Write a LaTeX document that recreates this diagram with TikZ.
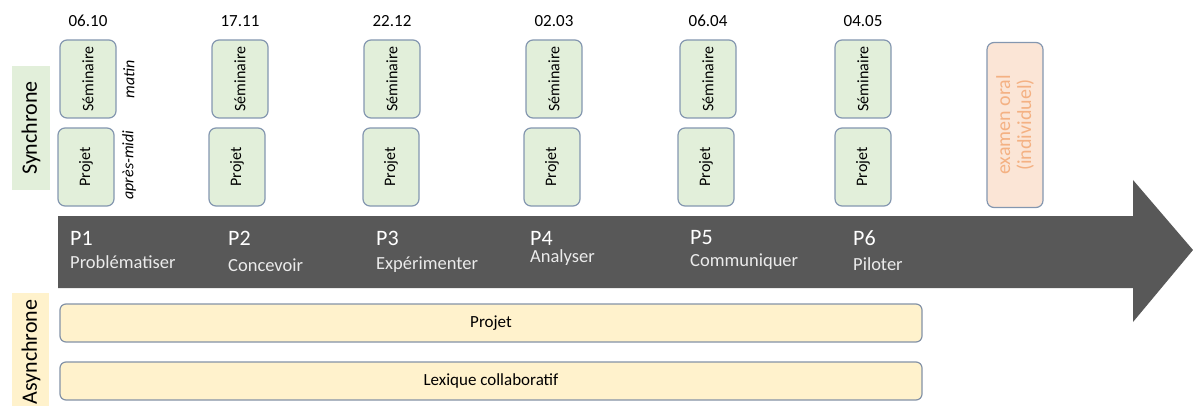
\documentclass[tikz,border=0pt]{standalone}
\usepackage{fontspec}
\setmainfont{Carlito}
\definecolor{gfill}{HTML}{E2EFDA}
\definecolor{bline}{HTML}{8497B0}
\definecolor{yfill}{HTML}{FFF2CC}
\definecolor{ofill}{HTML}{FBE5D6}
\definecolor{otext}{HTML}{F4B183}
\definecolor{arrowc}{HTML}{585858}
\begin{document}
\begin{tikzpicture}[x=1pt,y=-1pt,
  sbox/.style={draw=bline,line width=1.2pt,fill=gfill,rounded corners=7pt,minimum width=56pt,minimum height=78pt,inner sep=0pt,font=\fontsize{16}{18}\selectfont},
  bar/.style={draw=bline!80!gray,line width=1.2pt,fill=yfill,rounded corners=6pt,minimum height=38pt,inner sep=0pt,font=\fontsize{17}{19}\selectfont},
  datelbl/.style={font=\fontsize{17}{19}\selectfont},
  plbl/.style={anchor=west,text=white,font=\fontsize{22}{24}\selectfont,inner sep=0pt},
  vlbl/.style={anchor=west,text=white!92!black,font=\fontsize{18.5}{20}\selectfont,inner sep=0pt},
  side/.style={font=\fontsize{22}{24}\selectfont,rotate=90,inner sep=0pt}]
\useasboundingbox (0,0) rectangle (1193,406);
% timeline arrow
\fill[arrowc] (58,216) -- (1133,216) -- (1133,180) -- (1193,250) -- (1133,322) -- (1133,288) -- (58,288) -- cycle;
% side labels
\fill[gfill] (12,66) rectangle (50,190);
\node[side] (sync) at (31,128) {Synchrone};
\fill[yfill] (12,293) rectangle (49,406);
\node[side] (async) at (31,352) {Asynchrone};
% columns
\foreach \i/\xs/\xp/\d in {1/88/86/06.10, 2/240/237/17.11, 3/392/391/22.12, 4/554/552/02.03, 5/708/706/06.04, 6/863/863/04.05}{
  \node[datelbl] (d\i) at (\xs,21) {\d};
  \node[sbox] (s\i) at (\xs,79) {\rotatebox{90}{Séminaire}};
  \node[sbox] (p\i) at (\xp,167) {\rotatebox{90}{Projet}};
}
\node[font=\fontsize{16}{18}\selectfont\itshape,rotate=90] (matin) at (129,79) {matin};
\node[font=\fontsize{16}{18}\selectfont\itshape,rotate=90] (apm) at (129,165) {après-midi};
% exam
\node[draw=bline,line width=1.2pt,fill=ofill,rounded corners=7pt,minimum width=56pt,minimum height=165pt,inner sep=0pt] (exam) at (1015,125)
  {\rotatebox{90}{\parbox{150pt}{\centering\color{otext}\fontsize{20}{21}\selectfont examen oral\\(individuel)}}};
% phases
\foreach \i/\x/\w/\dy in {1/70/Problématiser/0, 2/228/Concevoir/3, 3/376/Expérimenter/3, 4/530/Analyser/-4, 5/690/Communiquer/0, 6/853/Piloter/2}{
  \node[plbl] (P\i) at (\x,238) {P\i};
  \node[vlbl] (V\i) at (\x,262+\dy) {\w};
}
% async bars
\node[bar,minimum width=862pt] (bp) at (491,323) {Projet};
\node[bar,minimum width=862pt] (bl) at (491,381) {Lexique collaboratif};
\end{tikzpicture}
\end{document}
